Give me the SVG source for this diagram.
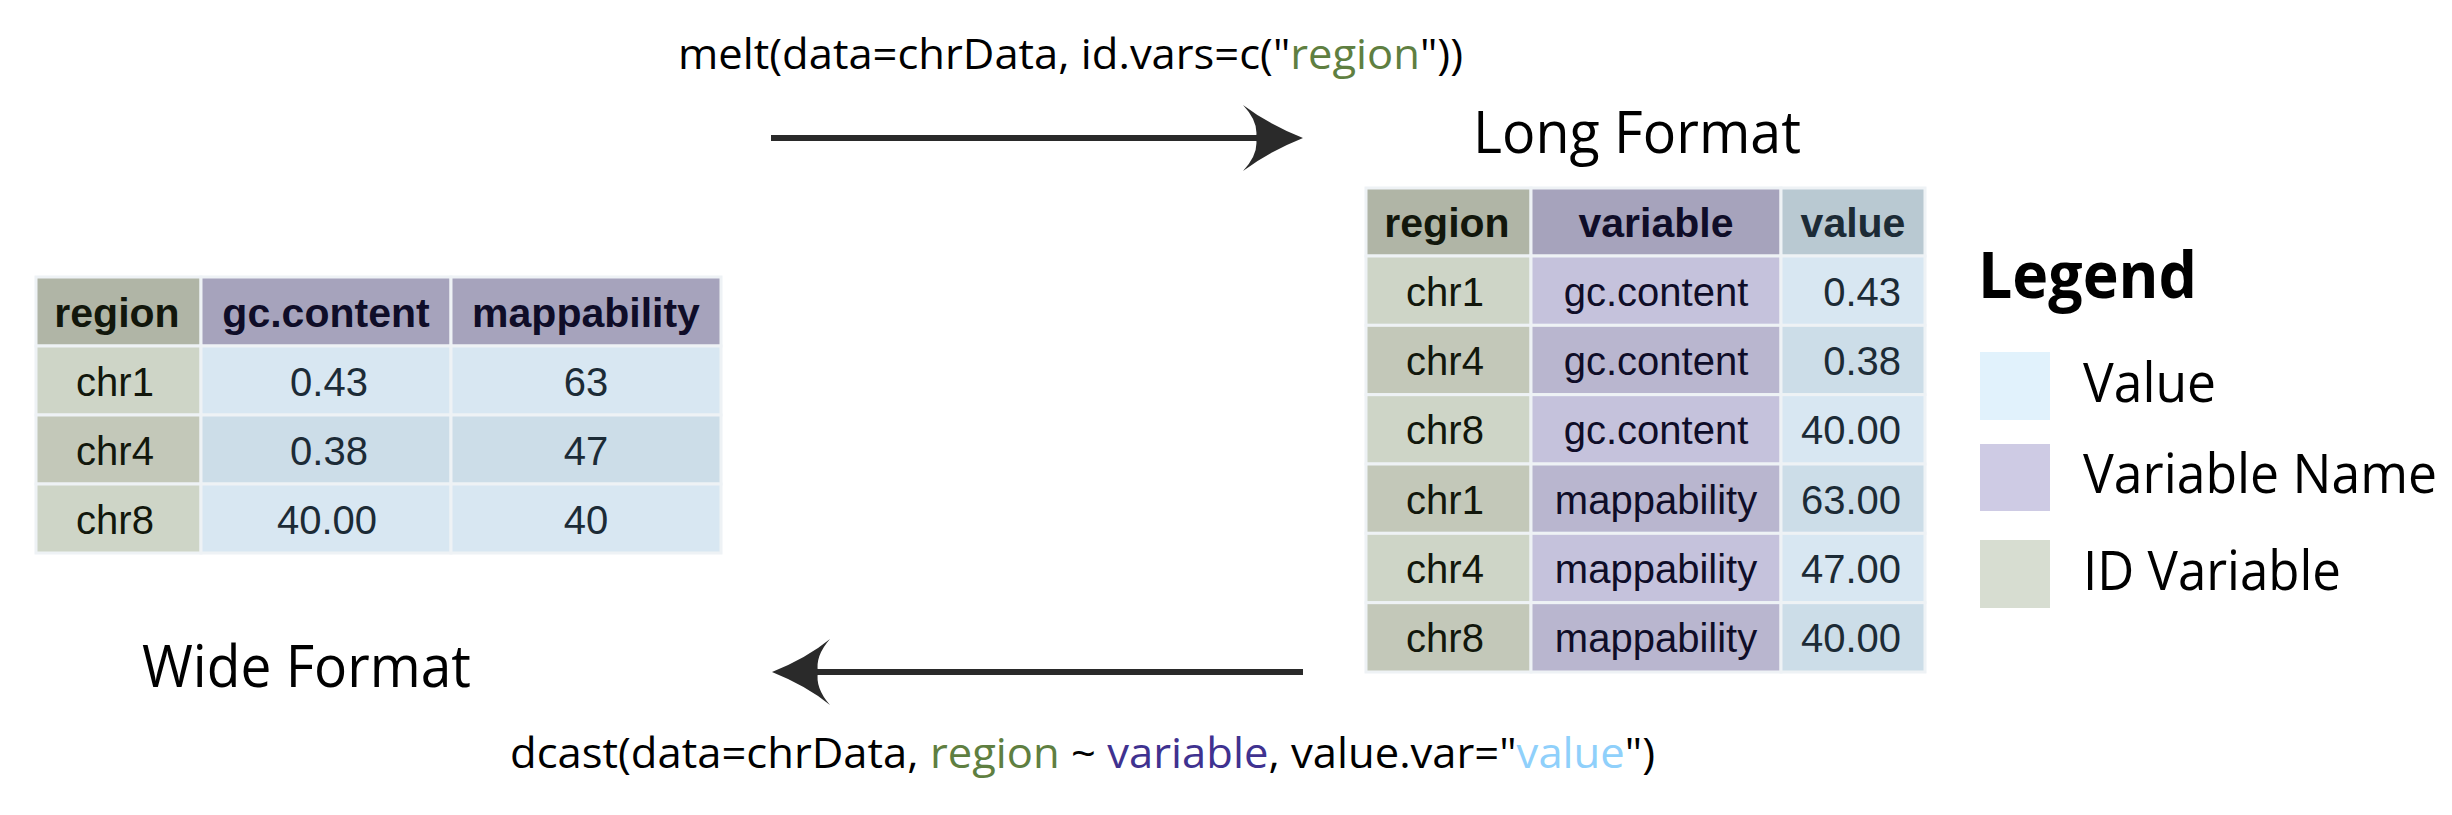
<svg xmlns="http://www.w3.org/2000/svg" width="2452" height="815" viewBox="0 0 2452 815">
<style>
.c{stroke:#eef2f5;stroke-width:3}
.hid{fill:#b0b5a6}.hvar{fill:#a6a3bc}.hval{fill:#b9c9d2}
.id1{fill:#ced5c7}.id2{fill:#c3c8b9}
.v1{fill:#c5c2dc}.v2{fill:#b9b6cf}
.n1{fill:#d8e7f2}.n2{fill:#ccdde8}
.th{font-family:"Liberation Sans",Arial,sans-serif;font-weight:bold;font-size:41px;text-anchor:middle}
.td{font-family:"Liberation Sans",Arial,sans-serif;font-size:40px;text-anchor:middle}
.td.r{text-anchor:end}
.tid{fill:#12170c}.tvar{fill:#0f0d28}.tval{fill:#1c2b36}
.my{font-family:"Open Sans","Noto Sans",sans-serif;fill:#000}
.green{fill:#5f7f41}.purple{fill:#3f3290}.blue{fill:#8fd0fb}
.line{stroke:#2a2a2a;stroke-width:6;fill:none}
.head{fill:#2a2a2a}
</style>

<g id="wide-table">
  <rect class="c hid" x="36" y="277" width="165" height="69"/>
  <rect class="c hvar" x="201" y="277" width="250" height="69"/>
  <rect class="c hvar" x="451" y="277" width="270" height="69"/>
  <rect class="c id1" x="36" y="346" width="165" height="69"/>
  <rect class="c n1" x="201" y="346" width="250" height="69"/>
  <rect class="c n1" x="451" y="346" width="270" height="69"/>
  <rect class="c id2" x="36" y="415" width="165" height="69"/>
  <rect class="c n2" x="201" y="415" width="250" height="69"/>
  <rect class="c n2" x="451" y="415" width="270" height="69"/>
  <rect class="c id1" x="36" y="484" width="165" height="69"/>
  <rect class="c n1" x="201" y="484" width="250" height="69"/>
  <rect class="c n1" x="451" y="484" width="270" height="69"/>
  <text class="th tid" x="117" y="327">region</text>
  <text class="th tvar" x="326" y="327">gc.content</text>
  <text class="th tvar" x="586" y="327">mappability</text>
  <text class="td tid" x="115" y="396">chr1</text>
  <text class="td tval" x="329" y="396">0.43</text>
  <text class="td tval" x="586" y="396">63</text>
  <text class="td tid" x="115" y="465">chr4</text>
  <text class="td tval" x="329" y="465">0.38</text>
  <text class="td tval" x="586" y="465">47</text>
  <text class="td tid" x="115" y="534">chr8</text>
  <text class="td tval" x="327" y="534">40.00</text>
  <text class="td tval" x="586" y="534">40</text>
</g>

<g id="long-table">
  <rect class="c hid" x="1366" y="188" width="165" height="68"/>
  <rect class="c hvar" x="1531" y="188" width="250" height="68"/>
  <rect class="c hval" x="1781" y="188" width="144" height="68"/>

  <rect class="c id1" x="1366" y="256" width="165" height="69.33"/>
  <rect class="c v1" x="1531" y="256" width="250" height="69.33"/>
  <rect class="c n1" x="1781" y="256" width="144" height="69.33"/>

  <rect class="c id2" x="1366" y="325.33" width="165" height="69.33"/>
  <rect class="c v2" x="1531" y="325.33" width="250" height="69.33"/>
  <rect class="c n2" x="1781" y="325.33" width="144" height="69.33"/>

  <rect class="c id1" x="1366" y="394.67" width="165" height="69.33"/>
  <rect class="c v1" x="1531" y="394.67" width="250" height="69.33"/>
  <rect class="c n1" x="1781" y="394.67" width="144" height="69.33"/>

  <rect class="c id2" x="1366" y="464" width="165" height="69.33"/>
  <rect class="c v2" x="1531" y="464" width="250" height="69.33"/>
  <rect class="c n2" x="1781" y="464" width="144" height="69.33"/>

  <rect class="c id1" x="1366" y="533.33" width="165" height="69.33"/>
  <rect class="c v1" x="1531" y="533.33" width="250" height="69.33"/>
  <rect class="c n1" x="1781" y="533.33" width="144" height="69.33"/>

  <rect class="c id2" x="1366" y="602.67" width="165" height="69.33"/>
  <rect class="c v2" x="1531" y="602.67" width="250" height="69.33"/>
  <rect class="c n2" x="1781" y="602.67" width="144" height="69.33"/>

  <text class="th tid" x="1447" y="237">region</text>
  <text class="th tvar" x="1656" y="237">variable</text>
  <text class="th tval" x="1853" y="237">value</text>

  <text class="td tid" x="1445" y="305.5">chr1</text>
  <text class="td tvar" x="1656" y="305.5">gc.content</text>
  <text class="td r tval" x="1901" y="305.5">0.43</text>

  <text class="td tid" x="1445" y="375">chr4</text>
  <text class="td tvar" x="1656" y="375">gc.content</text>
  <text class="td r tval" x="1901" y="375">0.38</text>

  <text class="td tid" x="1445" y="444.3">chr8</text>
  <text class="td tvar" x="1656" y="444.3">gc.content</text>
  <text class="td r tval" x="1901" y="444.3">40.00</text>

  <text class="td tid" x="1445" y="513.7">chr1</text>
  <text class="td tvar" x="1656" y="513.7">mappability</text>
  <text class="td r tval" x="1901" y="513.7">63.00</text>

  <text class="td tid" x="1445" y="583">chr4</text>
  <text class="td tvar" x="1656" y="583">mappability</text>
  <text class="td r tval" x="1901" y="583">47.00</text>

  <text class="td tid" x="1445" y="652.3">chr8</text>
  <text class="td tvar" x="1656" y="652.3">mappability</text>
  <text class="td r tval" x="1901" y="652.3">40.00</text>
</g>

<g id="legend">
  <text class="my" x="1978" y="298" font-size="64" font-weight="bold" textLength="219" lengthAdjust="spacingAndGlyphs">Legend</text>
  <rect x="1980" y="352" width="70" height="68" fill="#e1f2fc"/>
  <rect x="1980" y="444" width="70" height="67" fill="#cecbe4"/>
  <rect x="1980" y="540" width="70" height="68" fill="#d7ddd1"/>
  <text class="my" x="2083" y="402" font-size="54" textLength="133" lengthAdjust="spacingAndGlyphs">Value</text>
  <text class="my" x="2083" y="493" font-size="54" textLength="354" lengthAdjust="spacingAndGlyphs">Variable Name</text>
  <text class="my" x="2083" y="590" font-size="54" textLength="258" lengthAdjust="spacingAndGlyphs">ID Variable</text>
</g>

<g id="titles">
  <text class="my" x="1473" y="153" font-size="59" textLength="328" lengthAdjust="spacingAndGlyphs">Long Format</text>
  <text class="my" x="142" y="687" font-size="59" textLength="329" lengthAdjust="spacingAndGlyphs">Wide Format</text>
  <text class="my" x="678" y="69" font-size="42" textLength="785" lengthAdjust="spacingAndGlyphs">melt(data=chrData, id.vars=c("<tspan class="green">region</tspan>"))</text>
  <text class="my" x="510" y="768" font-size="42" textLength="1145" lengthAdjust="spacingAndGlyphs">dcast(data=chrData, <tspan class="green">region</tspan> ~ <tspan class="purple">variable</tspan>, value.var="<tspan class="blue">value</tspan>")</text>
</g>

<g id="connectors">
  <line class="line" x1="771" y1="138" x2="1262" y2="138"/>
  <path class="head" d="M1303,138 Q1268,124 1243,105 Q1259,122 1256,138 Q1259,154 1243,171 Q1268,152 1303,138 Z"/>
  <line class="line" x1="1303" y1="672" x2="812" y2="672"/>
  <path class="head" d="M772,672 Q807,658 830,639 Q815,656 818,672 Q815,688 830,705 Q807,686 772,672 Z"/>
</g>
</svg>
